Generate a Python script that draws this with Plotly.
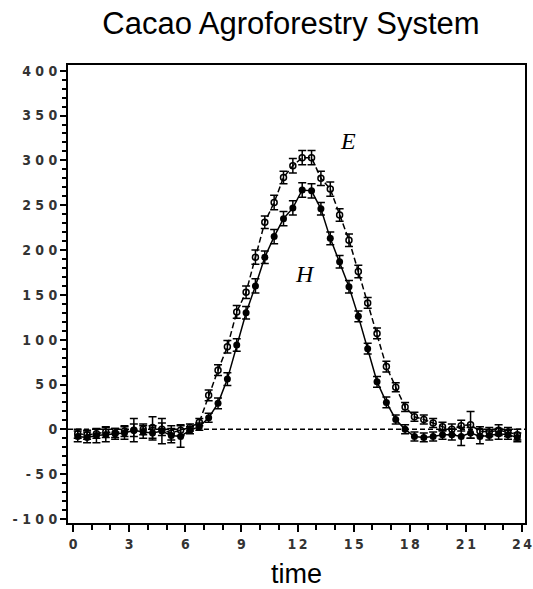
import plotly.graph_objects as go

# ---- data ----
time = [0.25 + 0.5 * i for i in range(48)]

E_values = [-5, -6, -5, -3, -4, -2, -1, 0, 2, 0, -4, -1,
            2, 8, 38, 66, 92, 131, 153, 192, 231, 253, 281, 294,
            303, 303, 280, 268, 239, 211, 176, 141, 107, 70, 47, 25,
            14, 11, 7, 3, 0, 4, 5, -2, -3, -1, -3, -6]
E_err = [5, 5, 5, 6, 5, 6, 7, 6, 12, 7, 8, 6,
         4, 4, 6, 6, 7, 7, 7, 8, 7, 8, 7, 8,
         8, 8, 8, 8, 7, 7, 7, 6, 6, 6, 5, 5,
         5, 5, 5, 5, 6, 6, 15, 5, 5, 6, 5, 6]

H_values = [-8, -9, -7, -6, -5, -4, -1, -3, -4, -2, -7, -8,
            -1, 3, 13, 29, 56, 94, 130, 160, 192, 215, 235, 247,
            267, 266, 246, 213, 187, 159, 126, 90, 53, 30, 11, 0,
            -8, -9, -8, -6, -6, -8, -4, -8, -7, -5, -6, -9]
H_err = [6, 6, 8, 8, 6, 7, 13, 7, 8, 14, 8, 12,
         4, 4, 5, 6, 7, 7, 7, 8, 7, 8, 8, 8,
         8, 8, 7, 7, 7, 7, 6, 6, 6, 6, 5, 5,
         5, 5, 5, 5, 6, 10, 6, 8, 5, 6, 5, 5]

x_tick_vals = [0, 3, 6, 9, 12, 15, 18, 21, 24]
y_tick_vals = [-100, -50, 0, 50, 100, 150, 200, 250, 300, 350, 400]


def spaced(v, sep=" "):
    return sep.join(str(v))


fig = go.Figure()

# zero reference line
fig.add_trace(go.Scatter(
    x=[-0.27, 24.16], y=[0, 0], mode="lines",
    line=dict(color="black", width=1.5, dash="5px,3px"),
    hoverinfo="skip", showlegend=False))

fig.add_trace(go.Scatter(
    x=time, y=E_values, mode="lines+markers", name="E",
    line=dict(color="black", width=1.5, dash="6px,3px"),
    marker=dict(symbol="circle-open", size=6, color="black",
                line=dict(width=1.5, color="black")),
    error_y=dict(type="data", array=E_err, visible=True,
                 color="black", thickness=1.5, width=4),
    showlegend=False))

fig.add_trace(go.Scatter(
    x=time, y=H_values, mode="lines+markers", name="H",
    line=dict(color="black", width=1.5),
    marker=dict(symbol="circle", size=7, color="black"),
    error_y=dict(type="data", array=H_err, visible=True,
                 color="black", thickness=1.5, width=4),
    showlegend=False))

tick_font = dict(family="Liberation Sans Narrow, DejaVu Sans Condensed, sans-serif",
                 size=14, color="#333333", weight="bold")

fig.update_layout(
    width=533, height=589,
    paper_bgcolor="white", plot_bgcolor="white",
    margin=dict(l=68, r=8, t=65, b=66, autoexpand=False),
    title=dict(text="Cacao Agroforestry System", x=0.546, xanchor="center",
               xref="container", y=0.961, yanchor="middle",
               font=dict(family="Liberation Sans, Arial, sans-serif", size=31,
                         color="black")),
    xaxis=dict(range=[-0.27, 24.16], showgrid=False, zeroline=False,
               automargin=False, ticklabeloverflow="allow",
               showline=True, linecolor="black", linewidth=2, mirror=True,
               ticks="outside", ticklen=7, tickwidth=2, tickcolor="black",
               tickvals=x_tick_vals,
               ticktext=[spaced(v, "\u2009") for v in x_tick_vals],
               tickfont=tick_font,
               minor=dict(dtick=1, tick0=0, ticks="outside", ticklen=5,
                          tickwidth=2, tickcolor="black"),
               title=dict(text="time", standoff=13,
                          font=dict(family="Liberation Sans, Arial, sans-serif",
                                    size=27, color="black"))),
    yaxis=dict(range=[-104.5, 406.4], showgrid=False, zeroline=False,
               automargin=False, ticklabeloverflow="allow",
               showline=True, linecolor="black", linewidth=2, mirror=True,
               ticks="outside", ticklen=6, tickwidth=2, tickcolor="black",
               tickvals=y_tick_vals, ticktext=[spaced(v) for v in y_tick_vals],
               tickfont=tick_font,
               minor=dict(dtick=10, tick0=0, ticks="outside", ticklen=4,
                          tickwidth=1.5, tickcolor="black")),
    annotations=[
        dict(x=14.7, y=322, text="<i>E</i>", showarrow=False,
             font=dict(family="Liberation Serif, Times New Roman, serif",
                       size=24, color="black")),
        dict(x=12.4, y=173, text="<i>H</i>", showarrow=False,
             font=dict(family="Liberation Serif, Times New Roman, serif",
                       size=24, color="black")),
    ],
)

fig.write_html("out.html",
               config={"displayModeBar": False},
               post_script="document.body.style.margin='0';"
                           "document.body.style.overflow='hidden';")
